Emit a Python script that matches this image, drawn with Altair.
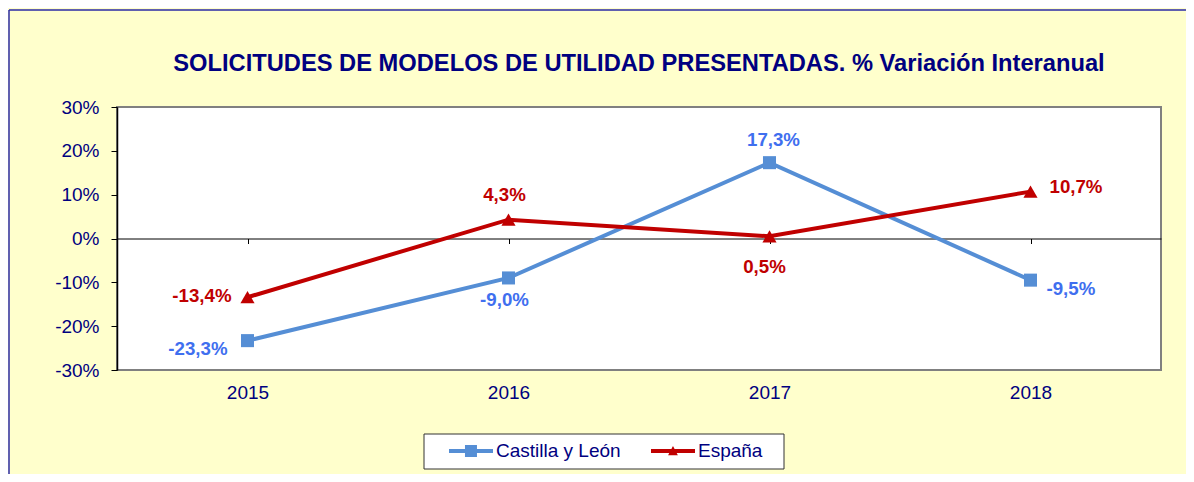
import altair as alt
import pandas as pd

# ---- data ----
years = ["2015", "2016", "2017", "2018"]
castilla = [-23.3, -9.0, 17.3, -9.5]
espana = [-13.4, 4.3, 0.5, 10.7]
series_names = ["Castilla y León", "España"]
y_ticks = [-30, -20, -10, 0, 10, 20, 30]

rows = []
for name, vals in zip(series_names, [castilla, espana]):
    for yr, v in zip(years, vals):
        rows.append({"serie": name, "year": yr, "value": v})
df = pd.DataFrame(rows)

# ---- styles ----
FONT = "Liberation Sans"
NAVY = "#000080"
LINE_COLORS = {"Castilla y León": "#558ED5", "España": "#C00000"}
LABEL_COLORS = {"Castilla y León": "#3F6FEF", "España": "#C00000"}
MARKERS = {"Castilla y León": "square", "España": "triangle-up"}
MARKER_SIZE = {"Castilla y León": 170, "España": 200}

# legend symbols: line + marker as custom paths
LEG_CYL = "M0.727,-0.18H4.727V0.18H0.727Z M2.18,-0.55H3.27V0.55H2.18Z"
LEG_ESP = "M0.727,-0.18H4.727V0.18H0.727Z M2.28,0.38L2.727,-0.45L3.17,0.38Z"

# label placements (align, dx, dy) per point
PLACE = {
    ("Castilla y León", "2015"): ("right", -20, 8),
    ("Castilla y León", "2016"): ("center", -4, 22),
    ("Castilla y León", "2017"): ("center", 4, -23),
    ("Castilla y León", "2018"): ("left", 16, 9),
    ("España", "2015"): ("right", -16, -1),
    ("España", "2016"): ("center", -4, -25),
    ("España", "2017"): ("center", -5, 31),
    ("España", "2018"): ("left", 19, -5),
}

W, H = 1044, 263
PAD = {"left": 109, "top": 99, "right": 25, "bottom": 104}
FRAME_Y = -97
LEG_X, LEG_Y, LEG_W, LEG_H = 307, 327, 360, 35

x_enc = alt.X(
    "year:N",
    scale=alt.Scale(domain=years),
    axis=alt.Axis(
        orient="bottom", offset=-131.5, title=None, labelAngle=0,
        domainColor="black", domainWidth=1, tickColor="black", tickSize=5,
        labelPadding=149, labelBaseline="middle", labelColor=NAVY,
        labelFontSize=19, labelFont=FONT,
    ),
)
y_enc = alt.Y(
    "value:Q",
    scale=alt.Scale(domain=[-30, 30], nice=False, zero=False),
    axis=alt.Axis(
        values=y_ticks, labelExpr="datum.value + '%'", title=None, grid=False,
        domainColor="black", domainWidth=1.5, tickColor="black", tickSize=6,
        labelPadding=12, labelColor=NAVY, labelFontSize=19, labelFont=FONT,
    ),
)

base = alt.Chart(df)
frame_df = pd.DataFrame({"k": [0]})

layers = []

# legend box (decorative background for the legend)
layers.append(
    alt.Chart(frame_df).mark_rect(fill="white", stroke="#333333", strokeWidth=1)
    .encode(x=alt.value(LEG_X), x2=alt.value(LEG_X + LEG_W),
            y=alt.value(LEG_Y), y2=alt.value(LEG_Y + LEG_H))
)

for name in series_names:
    layers.append(
        base.transform_filter(alt.datum.serie == name)
        .mark_line(strokeWidth=4, color=LINE_COLORS[name])
        .encode(x=x_enc, y=y_enc)
    )
for name in series_names:
    layers.append(
        base.transform_filter(alt.datum.serie == name)
        .mark_point(filled=True, opacity=1, shape=MARKERS[name],
                    size=MARKER_SIZE[name], color=LINE_COLORS[name])
        .encode(x=x_enc, y=y_enc)
    )
LABEL_EXPR = ("(datum.value < 0 ? '-' : '') + "
              "replace(format(abs(datum.value), '.1f'), '.', ',') + '%'")
for (name, yr), (align, dx, dy) in PLACE.items():
    layers.append(
        base.transform_filter((alt.datum.serie == name) & (alt.datum.year == yr))
        .transform_calculate(lbl=LABEL_EXPR)
        .mark_text(align=align, dx=dx, dy=dy, baseline="middle", font=FONT,
                   fontSize=18.7, fontWeight="bold", color=LABEL_COLORS[name])
        .encode(x=x_enc, y=y_enc, text="lbl:N")
    )

# legend carrier (no visible marks, only feeds the legend)
leg = alt.Legend(
    title=None, orient="none", legendX=LEG_X, legendY=LEG_Y,
    direction="horizontal",
    padding=6, symbolSize=484, symbolStrokeWidth=0, labelOffset=44,
    columnPadding=11, labelFont=FONT, labelFontSize=19,
    labelColor=NAVY, labelLimit=400,
)
legend_layer = (
    base.transform_filter("false")
    .mark_point(filled=True, opacity=1, size=484)
    .encode(
        x=x_enc, y=y_enc,
        color=alt.Color("serie:N",
                        scale=alt.Scale(domain=series_names,
                                        range=[LINE_COLORS[n] for n in series_names]),
                        legend=leg),
        shape=alt.Shape("serie:N",
                        scale=alt.Scale(domain=series_names, range=[LEG_CYL, LEG_ESP]),
                        legend=leg),
    )
)
layers.append(legend_layer)

# outer frame lines (decorative)
layers.append(
    alt.Chart(frame_df).mark_rule(color="#2B2BA6", strokeWidth=1.5)
    .encode(x=alt.value(-108), y=alt.value(FRAME_Y), y2=alt.value(H + PAD["bottom"]))
)
layers.append(
    alt.Chart(frame_df).mark_rule(color="#2B2BA6", strokeWidth=1.5)
    .encode(x=alt.value(-108), x2=alt.value(W + PAD["right"]), y=alt.value(FRAME_Y))
)

chart = (
    alt.layer(*layers)
    .properties(
        width=W, height=H,
        autosize=alt.AutoSizeParams(type="none"),
        padding=PAD,
        background="#FFFFCC",
        title=alt.Title(
            "SOLICITUDES DE MODELOS DE UTILIDAD PRESENTADAS. % Variación Interanual",
            font=FONT, fontSize=23.7, fontWeight="bold", color=NAVY,
            anchor="middle", frame="group", baseline="alphabetic", offset=-85,
        ),
    )
    .configure_view(stroke="#808080", strokeWidth=2, fill="white")
)

chart.save("out.html", embed_options={"renderer": "svg", "actions": False})
